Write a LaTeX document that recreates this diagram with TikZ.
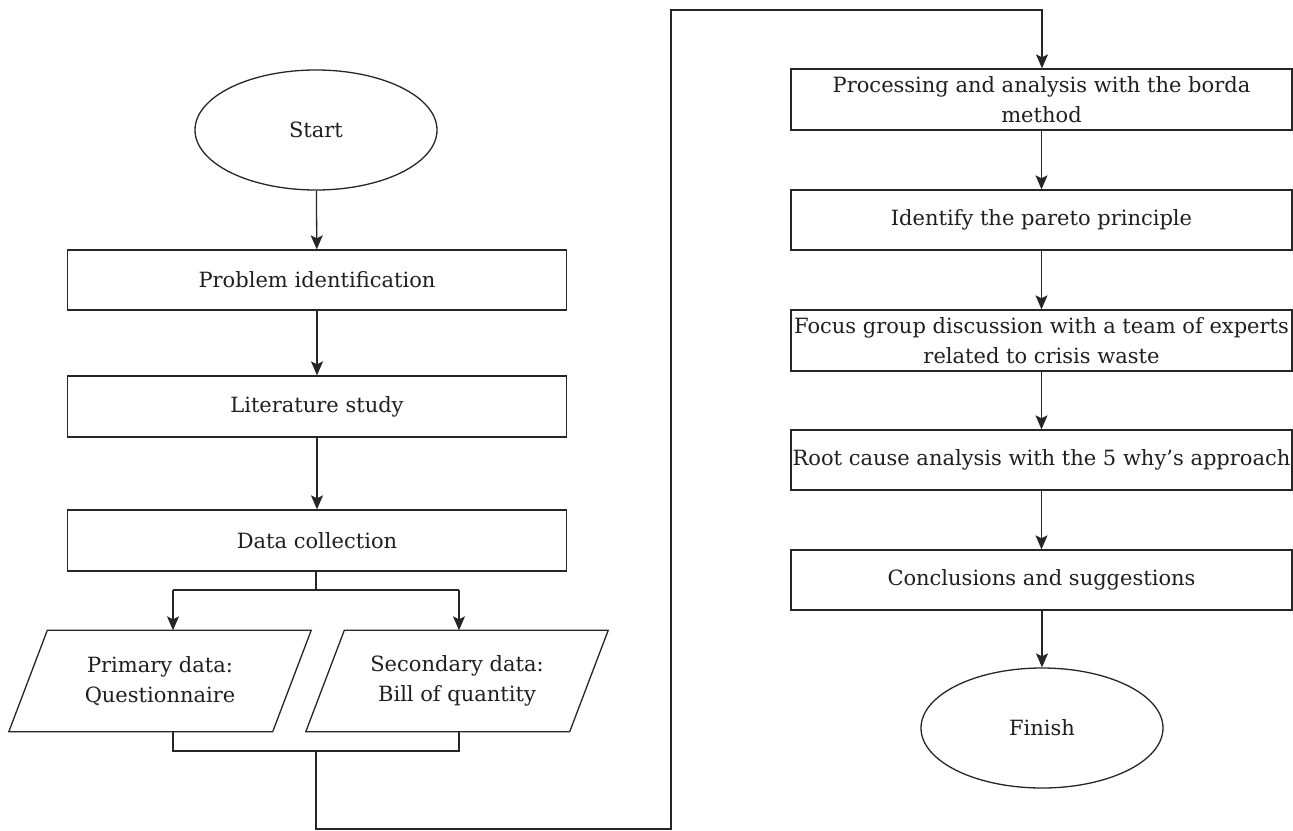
\documentclass[tikz,border=0pt]{standalone}
\usepackage{fontspec}
\setmainfont{DejaVu Serif}
\usetikzlibrary{shapes.geometric,arrows.meta,calc}
\begin{document}
\begin{tikzpicture}[x=1pt,y=-1pt,
  every node/.style={font=\fontsize{21}{30}\selectfont, text=black!88},
  line/.style={draw=black!85, line width=1.3pt},
  arrow/.style={line, -{Stealth[length=14pt,width=12pt,inset=3pt]}},
  procbox/.style={line, rectangle, minimum width=499pt, minimum height=60pt, inner sep=0pt, align=center},
  rprocbox/.style={line, rectangle, minimum width=501pt, minimum height=60pt, inner sep=0pt, align=center},
  termin/.style={line, ellipse, minimum width=242pt, minimum height=120pt, inner sep=0pt},
  iobox/.style={rectangle, minimum width=302pt, minimum height=101pt, inner sep=0pt, align=center}
]
\useasboundingbox (0,0) rectangle (1293,830);
\fill[white] (0,0) rectangle (1293,830);

% left column
\node[termin] (start) at (316,130) {Start};
\node[procbox] (pi) at (317,280) {Problem identification};
\node[procbox,minimum height=61pt] (lit) at (317,406.5) {Literature study};
\node[procbox,minimum height=61pt] (dc) at (317,540.5) {Data collection};
\node[iobox] (prim) at (160,681) {Primary data:\\Questionnaire};
\node[iobox] (sec) at (457,681) {Secondary data:\\Bill of quantity};
\draw[line] (prim.south west) -- ($(prim.south east)+(-38.5,0)$) -- (prim.north east) -- ($(prim.north west)+(38.5,0)$) -- cycle;
\draw[line] (sec.south west) -- ($(sec.south east)+(-38.5,0)$) -- (sec.north east) -- ($(sec.north west)+(38.5,0)$) -- cycle;

% right column
\node[rprocbox,minimum height=61pt] (proc) at (1041.5,99.5) {Processing and analysis with the borda\\method};
\node[rprocbox] (ident) at (1041.5,220) {Identify the pareto principle};
\node[rprocbox,minimum height=61pt] (focus) at (1041.5,340.5) {Focus group discussion with a team of experts\\related to crisis waste};
\node[rprocbox] (root) at (1041.5,460) {Root cause analysis with the 5 why's approach};
\node[rprocbox] (concl) at (1041.5,580) {Conclusions and suggestions};
\node[termin] (finish) at (1042,728) {Finish};

% helper coordinates
\coordinate (br) at (316,590);
\coordinate (bl) at (173,590);
\coordinate (bro) at (459,590);
\coordinate (ml) at (173,751);
\coordinate (mm) at (316,751);
\coordinate (mr) at (459,751);
\coordinate (c1) at (316,829);
\coordinate (c2) at (671,829);
\coordinate (c3) at (671,10);
\coordinate (c4) at (1042,10);

% connectors left
\draw[arrow] (start) -- (pi);
\draw[arrow] (pi) -- (lit);
\draw[arrow] (lit) -- (dc);
\draw[line] (dc.south -| br) -- (br);
\draw[line] (bl) -- (bro);
\draw[arrow] (bl) -- (bl |- prim.north);
\draw[arrow] (bro) -- (bro |- sec.north);
\draw[line] (ml |- prim.south) -- (ml) -- (mr) -- (mr |- sec.south);
\draw[arrow] (mm) -- (c1) -- (c2) -- (c3) -- (c4) -- (c4 |- proc.north);

% connectors right
\draw[arrow] (proc) -- (ident);
\draw[arrow] (ident) -- (focus);
\draw[arrow] (focus) -- (root);
\draw[arrow] (root) -- (concl);
\draw[arrow] (concl.south -| finish) -- (finish);
\end{tikzpicture}
\end{document}
